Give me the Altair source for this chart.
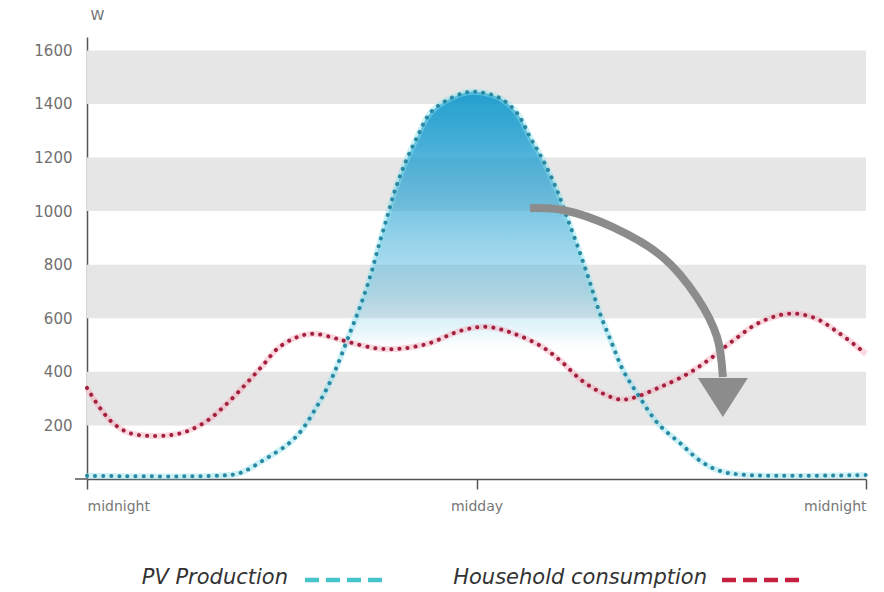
import altair as alt
import pandas as pd

# ---------------- data ----------------
pv_hours = [0, 3.9, 4.7, 5.5, 6.2, 6.6, 7.0, 7.4, 7.7, 8.1, 8.41, 8.72, 8.96, 9.24,
            9.49, 9.8, 10.17, 10.57, 11.09, 11.71, 12.11, 12.72, 13.25, 13.65, 14.05,
            14.48, 14.82, 15.19, 15.5, 15.8, 16.17, 16.51, 17.0, 17.6, 18.3, 18.9,
            19.5, 20.3, 24]
pv_watts = [12, 12, 22, 75, 131, 180, 254, 340, 420, 545, 642, 754, 858, 975,
            1078, 1179, 1276, 1366, 1414, 1444, 1444, 1422, 1366, 1276, 1190,
            1078, 966, 843, 731, 619, 507, 407, 310, 206, 131, 67,
            30, 15, 15]

use_hours = [0, 0.4, 0.8, 1.3, 1.9, 2.6, 3.1, 3.7, 4.3, 4.9, 5.4, 5.9, 6.5, 7.0, 7.6,
             8.1, 8.9, 9.6, 10.5, 11.5, 12.3, 13.1, 14.0, 14.6, 15.2, 15.8, 16.4, 16.8,
             17.6, 18.5, 19.2, 19.9, 20.7, 21.6, 22.4, 23.2, 24]
use_watts = [340, 265, 209, 172, 161, 164, 179, 217, 280, 355, 422, 490, 531, 542, 527,
             510, 488, 486, 505, 553, 568, 545, 495, 440, 372, 325, 297, 302,
             340, 392, 449, 516, 583, 617, 602, 542, 467]

band_low = [200, 600, 1000, 1400]
band_high = [400, 800, 1200, 1600]

y_tick_values = [200, 400, 600, 800, 1000, 1200, 1400, 1600]
x_tick_values = [0, 12, 24]
x_tick_labels = ["midnight", "midday", "midnight"]
y_unit = "W"

series_names = ["PV Production", "Household consumption"]

arrow_hours = [13.65, 14.66, 16.2, 17.74, 18.79, 19.41, 19.59]
arrow_watts = [1011, 1004, 940, 828, 679, 530, 381]
arrow_head_hour = [19.59]
arrow_head_watt = [304]

# ---------------- layout / style ----------------
W, H = 779, 442
AXIS = "#555555"
FONT = "DejaVu Sans"
PV_DOT, PV_HALO, PV_KEY = "#2a89a2", "#8fe1ee", "#45c4ca"
USE_DOT, USE_HALO, USE_KEY = "#a3213f", "#f4a9b8", "#c4203f"

pv_df = pd.DataFrame({"hour": pv_hours, "watt": pv_watts})
use_df = pd.DataFrame({"hour": use_hours, "watt": use_watts})
band_df = pd.DataFrame({"lo": band_low, "hi": band_high})
arrow_df = pd.DataFrame({"hour": arrow_hours, "watt": arrow_watts})
head_df = pd.DataFrame({"hour": arrow_head_hour, "watt": arrow_head_watt})
one = pd.DataFrame({"k": [0]})

x_scale = alt.Scale(domain=[0, 24], nice=False, zero=False)
y_scale = alt.Scale(domain=[0, 1650], nice=False)

label_map = " : ".join(
    f"datum.value == {v} ? '{t}'" for v, t in zip(x_tick_values, x_tick_labels)
) + " : ''"

x_axis = alt.Axis(
    values=x_tick_values, labelExpr=label_map, title=None, grid=False,
    domainColor=AXIS, domainWidth=1.5, tickColor=AXIS, tickWidth=1.5, tickSize=10,
    labelFlush=True, labelFont=FONT, labelFontSize=14, labelColor="#777777",
    labelPadding=10,
)
y_axis = alt.Axis(
    values=y_tick_values, format="d", title=y_unit, grid=False, ticks=False,
    domainColor=AXIS, domainWidth=1.5,
    labelFont=FONT, labelFontSize=15, labelColor="#707070", labelPadding=15,
    titleAngle=0, titleX=10, titleY=-22, titleAlign="center", titleBaseline="middle",
    titleFont=FONT, titleFontSize=14, titleFontWeight="normal", titleColor="#707070",
)


def X(field="hour"):
    return alt.X(f"{field}:Q", scale=x_scale, axis=x_axis)


def Y(field="watt"):
    return alt.Y(f"{field}:Q", scale=y_scale, axis=y_axis)


bands = alt.Chart(band_df).mark_rect(color="#e6e6e6").encode(
    x=alt.value(0), x2=alt.value(W), y=Y("lo"), y2="hi:Q",
)

fill = alt.Chart(pv_df).mark_area(
    interpolate="catmull-rom",
    color=alt.Gradient(
        gradient="linear", x1=0, x2=0, y1=0, y2=1,
        stops=[
            alt.GradientStop(color="rgba(25,155,205,0.95)", offset=0),
            alt.GradientStop(color="rgba(25,155,205,0.85)", offset=0.1),
            alt.GradientStop(color="rgba(30,158,208,0.68)", offset=0.24),
            alt.GradientStop(color="rgba(40,165,212,0.5)", offset=0.38),
            alt.GradientStop(color="rgba(60,175,218,0.35)", offset=0.52),
            alt.GradientStop(color="rgba(110,200,230,0.16)", offset=0.62),
            alt.GradientStop(color="rgba(180,230,245,0)", offset=0.67),
        ],
    ),
).encode(x=X(), y=Y())


def dotted(df, halo, dot):
    h = alt.Chart(df).mark_line(
        interpolate="catmull-rom", color=halo, strokeWidth=6, opacity=0.45
    ).encode(x=X(), y=Y())
    d = alt.Chart(df).mark_line(
        interpolate="catmull-rom", color=dot, strokeWidth=4, strokeCap="round",
        strokeDash=[0.1, 8],
    ).encode(x=X(), y=Y())
    return h, d


pv_halo, pv_dots = dotted(pv_df, PV_HALO, PV_DOT)
use_halo, use_dots = dotted(use_df, USE_HALO, USE_DOT)

axis_ext = alt.Chart(one).mark_rule(color=AXIS, strokeWidth=1.5).encode(
    x=alt.value(-12), x2=alt.value(0), y=alt.value(H)
)

arrow = alt.Chart(arrow_df).mark_line(
    interpolate="catmull-rom", color="#8c8c8c", strokeWidth=8, strokeCap="butt"
).encode(x=X(), y=Y())
head = alt.Chart(head_df).mark_point(
    shape="M-1,-0.78L1,-0.78L0,0.78Z", size=2500, filled=True,
    color="#8c8c8c", opacity=1, strokeWidth=0,
).encode(x=X(), y=Y())

# ---------------- legend (label left of the dash sample) ----------------
legend_layers = []
for name, key_color, text_right, dash_x1, dash_x2 in [
    (series_names[0], PV_KEY, 201, 218, 300),
    (series_names[1], USE_KEY, 620, 635, 719),
]:
    legend_layers.append(
        alt.Chart(pd.DataFrame({"label": [name]})).mark_text(
            align="right", baseline="middle", font=FONT, fontSize=21,
            fontStyle="italic", color="#333333",
        ).encode(text="label:N", x=alt.value(text_right), y=alt.value(541))
    )
    legend_layers.append(
        alt.Chart(one).mark_rule(
            color=key_color, strokeWidth=4.5, strokeDash=[14, 7]
        ).encode(x=alt.value(dash_x1), x2=alt.value(dash_x2), y=alt.value(543))
    )

chart = alt.layer(
    bands, fill, pv_halo, use_halo, pv_dots, use_dots, axis_ext, arrow, head,
    *legend_layers,
).properties(
    width=W, height=H,
    autosize=alt.AutoSizeParams(type="none"),
    padding={"left": 79, "top": 29, "right": 10, "bottom": 112},
).configure_view(stroke=None)

chart.save("out.html", embed_options={"renderer": "svg", "actions": False})
